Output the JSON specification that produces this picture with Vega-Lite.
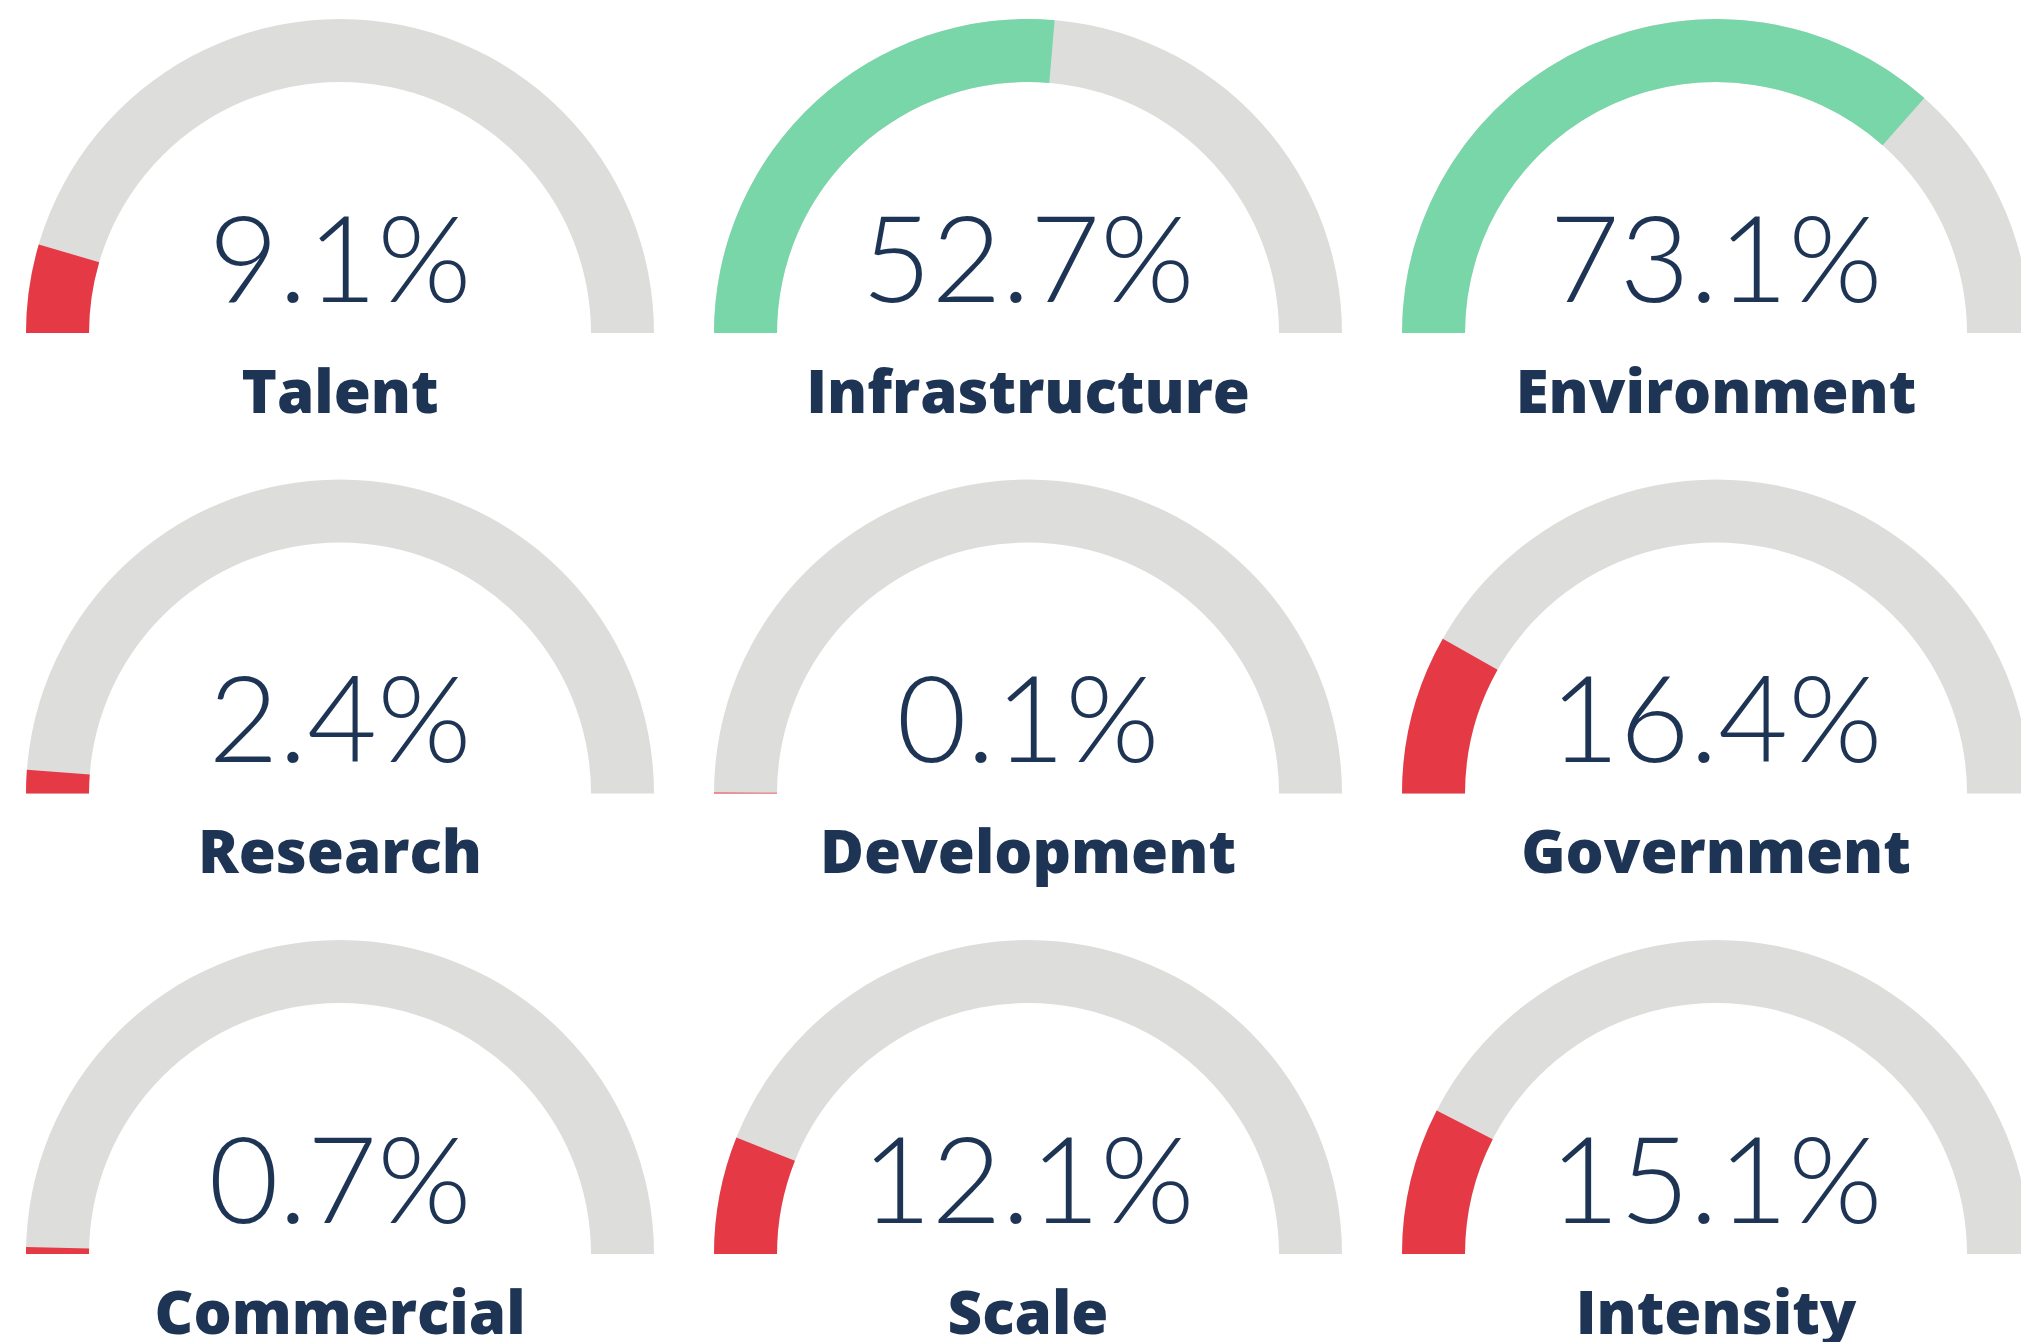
{
  "$schema": "https://vega.github.io/schema/vega-lite/v6.json",
  "width": 2021,
  "height": 1342,
  "padding": 0,
  "autosize": "none",
  "background": "#ffffff",
  "config": {"view": {"stroke": null}},
  "data": {
    "values": [
      {"name": "Talent", "pct": 9.1, "label": "9.1%", "col": 0, "row": 0},
      {"name": "Infrastructure", "pct": 52.7, "label": "52.7%", "col": 1, "row": 0},
      {"name": "Environment", "pct": 73.1, "label": "73.1%", "col": 2, "row": 0},
      {"name": "Research", "pct": 2.4, "label": "2.4%", "col": 0, "row": 1},
      {"name": "Development", "pct": 0.1, "label": "0.1%", "col": 1, "row": 1},
      {"name": "Government", "pct": 16.4, "label": "16.4%", "col": 2, "row": 1},
      {"name": "Commercial", "pct": 0.7, "label": "0.7%", "col": 0, "row": 2},
      {"name": "Scale", "pct": 12.1, "label": "12.1%", "col": 1, "row": 2},
      {"name": "Intensity", "pct": 15.1, "label": "15.1%", "col": 2, "row": 2}
    ]
  },
  "encoding": {
    "x": {"field": "col", "type": "quantitative", "axis": null, "scale": {"domain": [-0.49419, 2.44331], "nice": false, "zero": false}},
    "y": {"field": "row", "type": "quantitative", "axis": null, "scale": {"domain": [-0.72313, 2.1911], "nice": false, "zero": false, "reverse": true}}
  },
  "layer": [
    {
      "mark": {"type": "arc", "radius": 314, "radius2": 251, "theta": -1.5707963, "theta2": 1.5707963, "color": "#dddddb"}
    },
    {
      "mark": {"type": "arc", "radius": 314, "radius2": 251},
      "encoding": {
        "theta": {"field": "pct", "type": "quantitative", "stack": null, "scale": {"domain": [0, 100], "range": [-1.5707963, 1.5707963]}},
        "theta2": {"datum": 0},
        "color": {"condition": {"test": "datum.pct > 50", "value": "#78d6a9"}, "value": "#e63946"}
      }
    },
    {
      "mark": {"type": "text", "font": "Lato", "fontWeight": 300, "fontSize": 121, "color": "#1e3454", "align": "center", "baseline": "alphabetic", "dy": -31},
      "encoding": {"text": {"field": "label"}}
    },
    {
      "mark": {"type": "text", "font": "Open Sans", "fontWeight": 800, "fontSize": 60, "color": "#1e3454", "align": "center", "baseline": "alphabetic", "dy": 80},
      "encoding": {"text": {"field": "name"}}
    }
  ]
}
